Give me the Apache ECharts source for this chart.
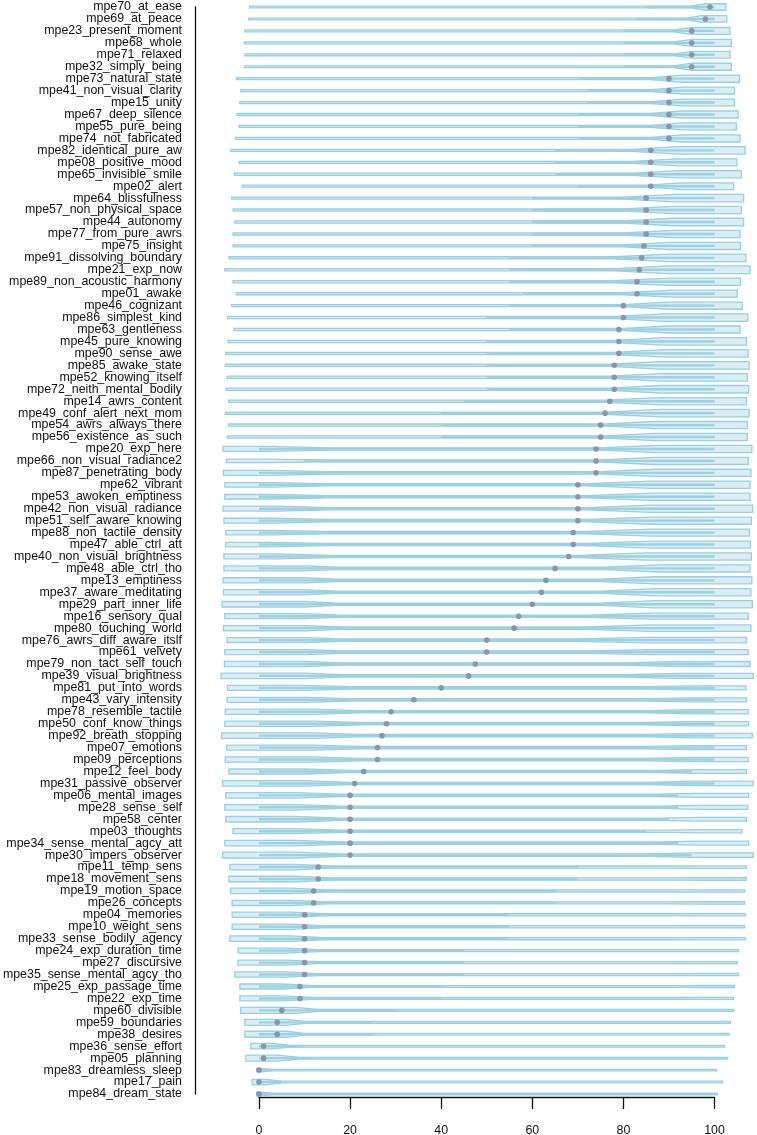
<!DOCTYPE html>
<html>
<head>
<meta charset="utf-8">
<title>MPE item violins</title>
<script src="https://cdn.jsdelivr.net/npm/echarts@6/dist/echarts.min.js"></script>
<style>
  html, body { margin: 0; padding: 0; background: #fff; }
  #chart { width: 757px; height: 1135px; }
</style>
</head>
<body>
<div id="chart"></div>
<script>
// item names, top to bottom
var labels = [
  'mpe70_at_ease', 'mpe69_at_peace', 'mpe23_present_moment', 'mpe68_whole', 'mpe71_relaxed',
  'mpe32_simply_being', 'mpe73_natural_state', 'mpe41_non_visual_clarity', 'mpe15_unity', 'mpe67_deep_silence',
  'mpe55_pure_being', 'mpe74_not_fabricated', 'mpe82_identical_pure_aw', 'mpe08_positive_mood', 'mpe65_invisible_smile',
  'mpe02_alert', 'mpe64_blissfulness', 'mpe57_non_physical_space', 'mpe44_autonomy', 'mpe77_from_pure_awrs',
  'mpe75_insight', 'mpe91_dissolving_boundary', 'mpe21_exp_now', 'mpe89_non_acoustic_harmony', 'mpe01_awake',
  'mpe46_cognizant', 'mpe86_simplest_kind', 'mpe63_gentleness', 'mpe45_pure_knowing', 'mpe90_sense_awe',
  'mpe85_awake_state', 'mpe52_knowing_itself', 'mpe72_neith_mental_bodily', 'mpe14_awrs_content', 'mpe49_conf_alert_next_mom',
  'mpe54_awrs_always_there', 'mpe56_existence_as_such', 'mpe20_exp_here', 'mpe66_non_visual_radiance2', 'mpe87_penetrating_body',
  'mpe62_vibrant', 'mpe53_awoken_emptiness', 'mpe42_non_visual_radiance', 'mpe51_self_aware_knowing', 'mpe88_non_tactile_density',
  'mpe47_able_ctrl_att', 'mpe40_non_visual_brightness', 'mpe48_able_ctrl_tho', 'mpe13_emptiness', 'mpe37_aware_meditating',
  'mpe29_part_inner_life', 'mpe16_sensory_qual', 'mpe80_touching_world', 'mpe76_awrs_diff_aware_itslf', 'mpe61_velvety',
  'mpe79_non_tact_self_touch', 'mpe39_visual_brightness', 'mpe81_put_into_words', 'mpe43_vary_intensity', 'mpe78_resemble_tactile',
  'mpe50_conf_know_things', 'mpe92_breath_stopping', 'mpe07_emotions', 'mpe09_perceptions', 'mpe12_feel_body',
  'mpe31_passive_observer', 'mpe06_mental_images', 'mpe28_sense_self', 'mpe58_center', 'mpe03_thoughts',
  'mpe34_sense_mental_agcy_att', 'mpe30_impers_observer', 'mpe11_temp_sens', 'mpe18_movement_sens', 'mpe19_motion_space',
  'mpe26_concepts', 'mpe04_memories', 'mpe10_weight_sens', 'mpe33_sense_bodily_agency', 'mpe24_exp_duration_time',
  'mpe27_discursive', 'mpe35_sense_mental_agcy_tho', 'mpe25_exp_passage_time', 'mpe22_exp_time', 'mpe60_divisible',
  'mpe59_boundaries', 'mpe38_desires', 'mpe36_sense_effort', 'mpe05_planning', 'mpe83_dreamless_sleep',
  'mpe17_pain', 'mpe84_dream_state'
];

var medians = [
  99, 98, 95, 95, 95, 95, 90, 90, 90, 90,
  90, 90, 86, 86, 86, 86, 85, 85, 85, 85,
  84.5, 84, 83.5, 83, 83, 80, 80, 79, 79, 79,
  78, 78, 78, 77, 76, 75, 75, 74, 74, 74,
  70, 70, 70, 70, 69, 69, 68, 65, 63, 62,
  60, 57, 56, 50, 50, 47.5, 46, 40, 34, 29,
  28, 27, 26, 26, 23, 21, 20, 20, 20, 20,
  20, 20, 13, 13, 12, 12, 10, 10, 10, 10,
  10, 10, 9, 9, 5, 4, 4, 1, 1, 0,
  0, 0
];

// box (quartiles)
var q1 = [
  85, 83, 80, 80, 80, 80, 70, 72, 72, 70,
  70, 70, 65, 65, 65, 70, 60, 60, 60, 60,
  60, 55, 55, 55, 58, 55, 50, 55, 50, 50,
  50, 50, 50, 45, 40, 40, 40, 0, 10, 0,
  0, 0, 0, 0, 0, 0, 0, 0, 0, 0,
  0, 0, 0, 0, 0, 0, 0, 0, 0, 0,
  0, 0, 0, 0, 0, 0, 0, 0, 0, 0,
  0, 0, 0, 0, 0, 0, 0, 0, 0, 0,
  0, 0, 0, 0, 0, 0, 0, 0, 0, 0,
  0, 0
];
var q3 = [
  100, 100, 100, 100, 100, 100, 100, 100, 100, 100,
  100, 100, 100, 100, 100, 100, 100, 100, 100, 100,
  100, 100, 100, 100, 100, 100, 100, 100, 100, 100,
  100, 100, 100, 100, 100, 100, 100, 100, 100, 100,
  100, 100, 100, 100, 100, 100, 100, 100, 100, 100,
  100, 100, 100, 100, 100, 100, 100, 100, 100, 100,
  100, 100, 100, 100, 95, 100, 92, 92, 90, 85,
  92, 95, 70, 70, 65, 65, 55, 55, 55, 45,
  45, 45, 40, 40, 30, 25, 25, 10, 12, 3,
  5, 3
];

// violin extent (density support)
var vMin = [
  -2.1, -2.3, -3.1, -3.2, -3.1, -3.2, -4.9, -4.0, -4.2, -4.8,
  -4.4, -5.2, -6.2, -4.4, -5.4, -3.7, -6.0, -5.7, -5.3, -5.7,
  -5.7, -6.6, -7.5, -5.7, -5.0, -6.0, -6.9, -5.5, -6.8, -7.3,
  -7.4, -7.0, -7.2, -6.7, -7.4, -6.7, -7.0, -7.9, -7.1, -7.8,
  -7.5, -7.5, -7.9, -7.7, -7.3, -7.3, -7.7, -7.7, -7.9, -7.8,
  -8.1, -7.5, -7.8, -7.0, -7.5, -7.6, -8.3, -6.9, -7.0, -7.4,
  -7.5, -8.2, -7.1, -7.4, -6.6, -8.0, -7.3, -7.5, -7.3, -5.7,
  -7.5, -8.0, -6.4, -6.6, -6.2, -5.9, -5.9, -5.9, -6.4, -4.6,
  -4.6, -5.3, -4.2, -4.2, -4.0, -3.1, -3.1, -1.8, -2.9, -0.5,
  -1.5, -0.5
];
var vMax = [
  102.5, 102.7, 103.4, 103.7, 103.4, 103.7, 105.5, 104.4, 104.4, 105.2,
  104.8, 105.6, 106.7, 104.9, 105.9, 104.2, 106.4, 105.9, 106.4, 105.6,
  105.7, 106.9, 107.8, 105.7, 105.0, 106.1, 107.3, 105.6, 107.0, 107.4,
  107.6, 107.2, 107.5, 107.0, 107.6, 107.2, 107.2, 108.2, 107.4, 108.0,
  107.8, 107.8, 108.4, 108.1, 107.7, 107.9, 108.1, 107.8, 108.2, 108.0,
  108.3, 107.4, 108.0, 107.0, 107.4, 107.8, 108.5, 106.9, 107.0, 107.4,
  107.5, 108.3, 107.0, 107.4, 107.0, 108.5, 107.5, 107.3, 107.0, 106.0,
  107.5, 108.5, 107.0, 107.0, 106.6, 106.6, 106.8, 106.6, 106.8, 105.3,
  105.0, 105.3, 104.4, 104.2, 104.2, 103.5, 103.2, 102.2, 102.9, 100.4,
  101.8, 100.6
];

// relative density: low-end mode, middle, high-end mode
var loW = [
  .18, .18, .19, .19, .19, .19, .20, .20, .20, .20,
  .20, .21, .21, .20, .21, .20, .21, .21, .21, .21,
  .21, .22, .22, .21, .21, .21, .22, .21, .22, .22,
  .22, .22, .22, .22, .22, .22, .22, .50, .35, .50,
  .45, .45, .50, .48, .45, .45, .50, .50, .52, .52,
  .55, .50, .52, .48, .50, .52, .55, .50, .50, .52,
  .52, .55, .50, .52, .50, .55, .55, .55, .55, .50,
  .55, .58, .55, .55, .55, .52, .52, .52, .55, .50,
  .50, .52, .50, .50, .60, .60, .60, .55, .60, .35,
  .55, .35
];
var neckW = [
  .18, .18, .19, .19, .19, .19, .20, .20, .20, .20,
  .20, .21, .21, .20, .21, .20, .21, .21, .21, .21,
  .21, .22, .22, .21, .21, .21, .22, .21, .22, .22,
  .22, .22, .22, .22, .22, .22, .22, .23, .22, .23,
  .23, .23, .23, .23, .23, .23, .23, .23, .23, .23,
  .23, .23, .23, .25, .25, .24, .23, .24, .24, .24,
  .24, .24, .24, .24, .23, .23, .23, .23, .23, .22,
  .23, .23, .21, .21, .21, .21, .21, .21, .21, .20,
  .20, .20, .19, .19, .18, .18, .18, .17, .17, .15,
  .17, .15
];
var hiW = [
  .65, .65, .68, .70, .68, .70, .72, .68, .68, .70,
  .70, .72, .75, .70, .72, .68, .75, .72, .75, .72,
  .72, .75, .78, .72, .70, .72, .75, .70, .75, .75,
  .75, .75, .75, .72, .75, .72, .72, .72, .72, .72,
  .72, .72, .72, .72, .70, .70, .72, .72, .72, .72,
  .72, .60, .65, .55, .50, .50, .50, .40, .40, .42,
  .42, .45, .40, .42, .38, .45, .40, .40, .38, .33,
  .40, .45, .25, .25, .23, .23, .23, .23, .23, .21,
  .21, .21, .20, .20, .18, .18, .18, .17, .17, .15,
  .17, .15
];

// where the low mode ends / neck starts, where the neck ends / high mode starts
var loEnd = [
  0, 0, 0, 0, 0, 0, 0, 0, 0, 0,
  0, 0, 0, 0, 0, 0, 0, 0, 0, 0,
  0, 0, 0, 0, 0, 0, 0, 0, 0, 0,
  0, 0, 0, 0, 0, 0, 0, 3, 2, 3,
  3, 3, 4, 3, 3, 3, 4, 10, 10, 10,
  10, 10, 10, 10, 10, 10, 10, 10, 10, 12,
  12, 12, 12, 12, 10, 10, 8, 8, 8, 8,
  8, 8, 8, 8, 7, 7, 7, 7, 7, 6,
  6, 6, 5, 5, 8, 6, 6, 3, 4, .5,
  1.5, .5
];
var loNeck = [
  0, 0, 0, 0, 0, 0, 0, 0, 0, 0,
  0, 0, 0, 0, 0, 0, 0, 0, 0, 0,
  0, 0, 0, 0, 0, 0, 0, 0, 0, 0,
  0, 0, 0, 0, 0, 0, 0, 15, 12, 15,
  15, 15, 16, 15, 15, 15, 16, 17, 17, 17,
  17, 18, 18, 18, 18, 18, 18, 20, 20, 22,
  22, 22, 22, 22, 20, 20, 18, 18, 18, 18,
  18, 18, 16, 16, 15, 15, 14, 14, 14, 13,
  13, 13, 12, 12, 13, 10, 10, 7, 9, 3,
  5, 3
];
var hiNeck = [
  95, 94, 91, 91, 91, 91, 86, 86, 86, 86,
  86, 86, 82, 82, 82, 85, 80, 80, 80, 80,
  80, 78, 78, 78, 80, 80, 78, 80, 78, 78,
  77, 77, 77, 76, 76, 76, 76, 75, 75, 75,
  72, 72, 72, 72, 72, 72, 70, 76, 75, 75,
  75, 72, 72, 70, 72, 80, 80, 85, 85, 85,
  85, 85, 85, 85, 88, 85, 88, 88, 88, 90,
  88, 85, 90, 90, 90, 90, 90, 90, 90, 92,
  92, 92, 92, 92, 95, 95, 95, 96, 96, 97,
  97, 97
];
var hiStart = [
  98, 97, 95, 95, 95, 95, 93, 93, 93, 93,
  93, 93, 92, 92, 92, 93, 91, 91, 91, 91,
  90, 90, 90, 90, 91, 90, 89, 90, 89, 89,
  88, 88, 88, 88, 88, 87, 87, 87, 87, 87,
  86, 86, 86, 86, 86, 86, 85, 88, 87, 87,
  87, 86, 86, 85, 86, 92, 92, 95, 95, 95,
  95, 95, 95, 95, 96, 95, 96, 96, 96, 97,
  96, 95, 97, 97, 97, 97, 97, 97, 97, 98,
  98, 98, 98, 98, 99, 99, 99, 99, 99, 99,
  99, 99
];

var xTicks = [0, 20, 40, 60, 80, 100];

var HALF = 5; // px of half width for density 1
var FONT = 'Liberation Sans, Helvetica, Arial, sans-serif';

var chart = echarts.init(document.getElementById('chart'));

function renderItem(params, api) {
  var i = params.dataIndex;
  var y = api.coord([0, i])[1];
  var px = function (v) { return api.coord([v, i])[0]; };
  var prof = [
    [vMin[i], loW[i]], [loEnd[i], loW[i]], [loNeck[i], neckW[i]],
    [hiNeck[i], neckW[i]], [hiStart[i], hiW[i]], [vMax[i], hiW[i]]
  ];
  var top = prof.map(function (p) { return [px(p[0]), y - p[1] * HALF]; });
  var bot = prof.slice().reverse().map(function (p) { return [px(p[0]), y + p[1] * HALF]; });
  return {
    type: 'group',
    children: [
      {
        type: 'polygon',
        shape: { points: top.concat(bot) },
        style: { fill: 'rgba(173,216,230,0.45)', stroke: '#98cfe1', lineWidth: 1.3 }
      },
      {
        type: 'line',
        shape: { x1: px(q1[i]), y1: y, x2: px(q3[i]), y2: y },
        style: { stroke: '#9dd0e1', lineWidth: 2.4 }
      },
      {
        type: 'circle',
        shape: { cx: px(medians[i]), cy: y, r: 2.8 },
        style: { fill: '#8696b0' }
      }
    ]
  };
}

chart.setOption({
  animation: false,
  backgroundColor: '#fff',
  grid: {
    left: 259,
    right: 42.5,
    top: 7,
    bottom: 41,
    containLabel: false,
    outerBoundsMode: 'none'
  },
  xAxis: {
    type: 'value',
    min: xTicks[0],
    max: xTicks[xTicks.length - 1],
    interval: 20,
    offset: 3,
    axisLine: { show: true, onZero: false, lineStyle: { color: '#111', width: 1.3 } },
    axisTick: { show: true, length: 12, lineStyle: { color: '#111', width: 1.3 } },
    axisLabel: { margin: 28, fontSize: 12.4, color: '#111', fontFamily: FONT },
    splitLine: { show: false }
  },
  yAxis: {
    type: 'category',
    data: labels,
    inverse: true,
    boundaryGap: false,
    offset: 64,
    axisLine: { show: true, onZero: false, lineStyle: { color: '#111', width: 1.3 } },
    axisTick: { show: false },
    axisLabel: { interval: 0, margin: 13, fontSize: 12.4, color: '#111', fontFamily: FONT },
    splitLine: { show: false }
  },
  series: [{
    type: 'custom',
    renderItem: renderItem,
    clip: false,
    silent: true,
    encode: { x: 0, y: 1 },
    data: medians.map(function (m, i) { return [m, i]; })
  }]
});
</script>
</body>
</html>
